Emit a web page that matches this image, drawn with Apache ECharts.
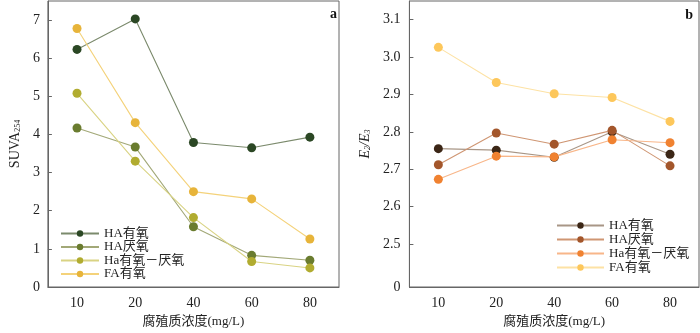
<!DOCTYPE html>
<html>
<head>
<meta charset="utf-8">
<script src="https://cdn.jsdelivr.net/npm/echarts@6/dist/echarts.min.js"></script>
<style>
  html, body { margin: 0; padding: 0; background: #fff; }
  .wrap { position: relative; width: 700px; height: 333px; }
  .chart { position: absolute; top: 0; width: 350px; height: 333px; }
</style>
</head>
<body>
<div class="wrap">
  <div id="chartA" class="chart" style="left:0"></div>
  <div id="chartB" class="chart" style="left:350px"></div>
</div>
<script>
// 横坐标：腐殖质浓度
const categories = ['10', '20', '40', '60', '80'];
const seriesNames = ['HA有氧', 'HA厌氧', 'Ha有氧－厌氧', 'FA有氧'];

// (a) SUVA254
const suvaHAaer = [6.23, 7.03, 3.79, 3.65, 3.93];
const suvaHAana = [4.17, 3.67, 1.58, 0.83, 0.70];
const suvaHAmix = [5.08, 3.30, 1.82, 0.67, 0.50];
const suvaFAaer = [6.78, 4.31, 2.50, 2.31, 1.26];
const yTicksA = [0, 1, 2, 3, 4, 5, 6, 7];

// (b) E2/E3
const e2e3HAaer = [2.755, 2.751, 2.732, 2.800, 2.740];
const e2e3HAana = [2.712, 2.797, 2.767, 2.804, 2.709];
const e2e3HAmix = [2.673, 2.735, 2.733, 2.779, 2.771];
const e2e3FAaer = [3.026, 2.932, 2.902, 2.892, 2.828];
const yTicksB = [2.5, 2.6, 2.7, 2.8, 2.9, 3.0, 3.1];

const FONT = '"Liberation Serif", "Noto Sans CJK SC", serif';
const AXIS_COLOR = '#666';
const TEXT_COLOR = '#222';

const colorsA = {
  marker: ['#2b4724', '#6a7c2f', '#b1ac30', '#e7b43a'],
  line: ['#7b8a6c', '#a2a877', '#d9d383', '#f4d27a']
};
const colorsB = {
  marker: ['#3b2616', '#a3562b', '#f08231', '#fdc75b'],
  line: ['#a89686', '#cf9673', '#f8b689', '#fde2a4']
};

const buildSeries = (lists, colors, size) => {
  return lists.map((d, i) => ({
    name: seriesNames[i],
    type: 'line',
    data: d,
    symbol: 'circle',
    symbolSize: size,
    z: 2 + i,
    itemStyle: { color: colors.marker[i] },
    lineStyle: { color: colors.line[i], width: 1.1 }
  }));
};

const xAxisCommon = {
  type: 'category',
  data: categories,
  boundaryGap: true,
  name: '腐殖质浓度(mg/L)',
  nameLocation: 'middle',
  nameGap: 28,
  nameTextStyle: { fontFamily: FONT, fontSize: 13, color: TEXT_COLOR },
  axisLine: { lineStyle: { color: AXIS_COLOR } },
  axisTick: { inside: true, alignWithLabel: true, length: 4, lineStyle: { color: AXIS_COLOR } },
  axisLabel: { fontFamily: FONT, fontSize: 14, color: TEXT_COLOR, margin: 9 },
  splitLine: { show: false }
};

// ---------- 图 a ----------
const chartA = echarts.init(document.getElementById('chartA'));
chartA.setOption({
  animation: false,
  grid: { left: 33, top: 1, width: 306, height: 290, show: true, borderColor: AXIS_COLOR, borderWidth: 1 },
  xAxis: xAxisCommon,
  yAxis: {
    type: 'value',
    min: 0,
    max: 7.5,
    name: '{n|SUVA}{s|254}',
    nameLocation: 'middle',
    nameGap: 20,
    nameTextStyle: {
      rich: {
        n: { fontFamily: FONT, fontSize: 14, color: TEXT_COLOR },
        s: { fontFamily: FONT, fontSize: 8, color: TEXT_COLOR, verticalAlign: 'bottom', padding: [6, 0, 0, 0] }
      }
    },
    axisLine: { show: true, lineStyle: { color: AXIS_COLOR } },
    axisTick: { show: true, inside: true, length: 4, customValues: yTicksA, lineStyle: { color: AXIS_COLOR } },
    axisLabel: { fontFamily: FONT, fontSize: 14, color: TEXT_COLOR, margin: 8, customValues: yTicksA },
    splitLine: { show: false }
  },
  legend: {
    orient: 'vertical',
    left: 55,
    top: 222,
    itemWidth: 38,
    itemHeight: 8,
    itemGap: 0.5,
    textStyle: { fontFamily: FONT, fontSize: 13, color: TEXT_COLOR, lineHeight: 13 },
    data: seriesNames
  },
  graphic: [
    { type: 'text', right: 13, top: 7, style: { text: 'a', font: 'bold 14px "Liberation Serif"', fill: '#111' } }
  ],
  series: buildSeries([suvaHAaer, suvaHAana, suvaHAmix, suvaFAaer], colorsA, 9)
});

// ---------- 图 b（纵轴在 0 与 2.5 之间截断）----------
const BREAK_MIN = 2.385;
const chartB = echarts.init(document.getElementById('chartB'));
const tickValsB = [BREAK_MIN].concat(yTicksB);
chartB.setOption({
  animation: false,
  grid: { left: 43, top: 1, width: 306, height: 293, show: true, borderColor: AXIS_COLOR, borderWidth: 1 },
  xAxis: xAxisCommon,
  yAxis: {
    type: 'value',
    min: BREAK_MIN,
    max: 3.15,
    name: '{i|E}{s|2}{i|/E}{s|3}',
    nameLocation: 'middle',
    nameGap: 28,
    nameTextStyle: {
      rich: {
        i: { fontFamily: FONT, fontSize: 14, fontStyle: 'italic', color: TEXT_COLOR },
        s: { fontFamily: FONT, fontSize: 8, fontStyle: 'italic', color: TEXT_COLOR, verticalAlign: 'bottom', padding: [6, 0, 0, 0] }
      }
    },
    axisLine: { show: true, lineStyle: { color: AXIS_COLOR } },
    axisTick: { show: true, inside: true, length: 4, customValues: yTicksB, lineStyle: { color: AXIS_COLOR } },
    axisLabel: {
      fontFamily: FONT,
      fontSize: 14,
      color: TEXT_COLOR,
      margin: 9,
      customValues: tickValsB,
      formatter: (v) => (v === BREAK_MIN ? '0' : v.toFixed(1))
    },
    splitLine: { show: false }
  },
  legend: {
    orient: 'vertical',
    left: 201,
    top: 214,
    itemWidth: 47,
    itemHeight: 8,
    itemGap: 1,
    textStyle: { fontFamily: FONT, fontSize: 13, color: TEXT_COLOR, lineHeight: 13 },
    data: seriesNames
  },
  graphic: [
    { type: 'text', right: 7, top: 8, style: { text: 'b', font: 'bold 14px "Liberation Serif"', fill: '#111' } }
  ],
  series: buildSeries([e2e3HAaer, e2e3HAana, e2e3HAmix, e2e3FAaer], colorsB, 9)
});
</script>
</body>
</html>
